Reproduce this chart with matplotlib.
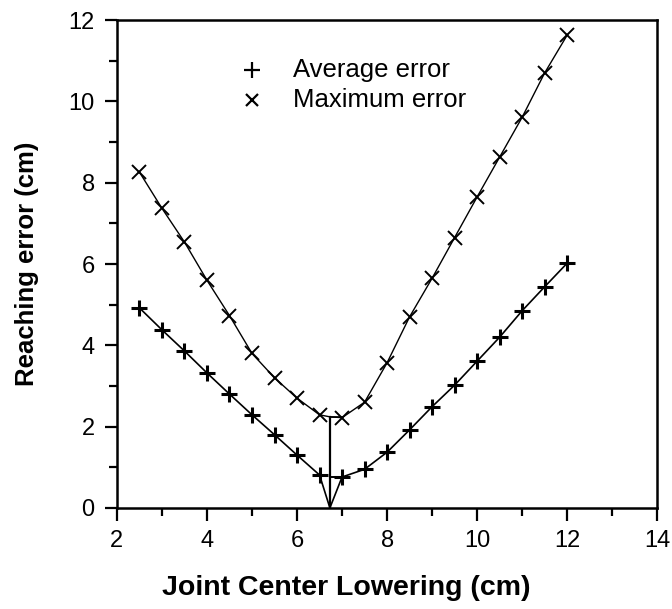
import matplotlib
matplotlib.use("Agg")
import matplotlib.pyplot as plt
from matplotlib.ticker import MultipleLocator

plt.rcParams['font.family'] = ['Liberation Sans', 'DejaVu Sans']

# joint center lowering (cm)
x_pts = [2.5, 3.0, 3.5, 4.0, 4.5, 5.0, 5.5, 6.0, 6.5, 7.0, 7.5, 8.0,
         8.5, 9.0, 9.5, 10.0, 10.5, 11.0, 11.5, 12.0]
avg_err = [4.92, 4.38, 3.86, 3.32, 2.80, 2.29, 1.80, 1.30, 0.81, 0.76, 0.95, 1.37,
           1.92, 2.49, 3.02, 3.61, 4.20, 4.85, 5.44, 6.02]
max_err = [8.26, 7.37, 6.54, 5.60, 4.73, 3.80, 3.20, 2.70, 2.29, 2.22, 2.60, 3.57,
           4.70, 5.65, 6.65, 7.65, 8.63, 9.61, 10.70, 11.63]

# optimum lowering, where the curves meet the vertical marker
x_opt = 6.73
avg_opt = 0.0
max_opt = 2.24

fig = plt.figure(figsize=(6.72, 6.09), dpi=100)
ax = fig.add_axes([0.174, 0.166, 0.804, 0.801])

# curves pass through the optimum point (no marker there)
xa = x_pts[:9] + [x_opt] + x_pts[9:]
ya = avg_err[:9] + [avg_opt] + avg_err[9:]
ym = max_err[:9] + [max_opt] + max_err[9:]
ax.plot(xa, ya, color='black', lw=1.2)
ax.plot(xa, ym, color='black', lw=1.0)
ax.plot(x_pts, avg_err, ls='none', marker='+', ms=12, mew=2.2, color='black')
ax.plot(x_pts, max_err, ls='none', marker='x', ms=10, mew=1.4, color='black')

# vertical marker at the optimum
ax.plot([x_opt, x_opt], [avg_opt, max_opt], color='black', lw=1.6)
ax.plot([x_opt, x_pts[9]], [avg_err[9], avg_err[9]], color='black', lw=1.4)
ax.plot([x_opt, x_pts[9]], [max_opt, max_opt], color='black', lw=1.2)

ax.set_xlim(2, 14)
ax.set_ylim(0, 12)
ax.xaxis.set_major_locator(MultipleLocator(2))
ax.xaxis.set_minor_locator(MultipleLocator(1))
ax.yaxis.set_major_locator(MultipleLocator(2))
ax.yaxis.set_minor_locator(MultipleLocator(1))
ax.tick_params(which='major', direction='out', length=9, width=1.6,
               labelsize=17, pad=7)
ax.tick_params(which='minor', direction='out', length=5.5, width=1.6)
for s in ax.spines.values():
    s.set_linewidth(1.8)

ax.set_xlabel('Joint Center Lowering (cm)', fontsize=20.5, fontweight='bold')
ax.xaxis.set_label_coords(0.424, -0.138)
ax.set_ylabel('Reaching error (cm)', fontsize=18.5, fontweight='bold')
ax.yaxis.set_label_coords(-0.145, 0.5)

# legend drawn by hand
ax.plot([0.25], [0.897], transform=ax.transAxes, marker='+', ms=11, mew=1.6,
        color='black', ls='none')
ax.plot([0.25], [0.836], transform=ax.transAxes, marker='x', ms=9, mew=1.6,
        color='black', ls='none')
ax.text(0.325, 0.897, 'Average error', transform=ax.transAxes, fontsize=18.5,
        va='center', ha='left')
ax.text(0.325, 0.836, 'Maximum error', transform=ax.transAxes, fontsize=18.5,
        va='center', ha='left')

fig.savefig('out.png', dpi=100)
